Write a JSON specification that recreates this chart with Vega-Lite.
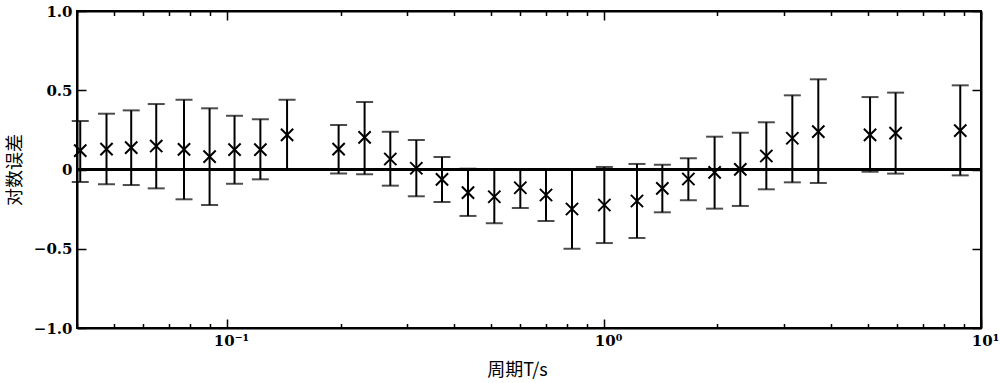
{
  "$schema": "https://vega.github.io/schema/vega-lite/v6.json",
  "autosize": "none",
  "padding": {"left": 77, "top": 11, "right": 19, "bottom": 55},
  "width": 904,
  "height": 317,
  "background": "white",
  "config": {
    "view": {"stroke": "black", "strokeWidth": 2},
    "axis": {
      "domainColor": "black", "domainWidth": 2,
      "tickColor": "black", "tickWidth": 1.5,
      "grid": false,
      "labelFont": "DejaVu Serif", "labelFontWeight": "bold", "labelFontSize": 15, "labelColor": "black",
      "titleFont": "Noto Sans CJK SC", "titleFontWeight": "normal", "titleFontSize": 18, "titleColor": "black"
    }
  },
  "datasets": {
    "pts": [
      {"T": 0.0408, "v": 0.119, "lo": -0.079, "hi": 0.306},
      {"T": 0.0479, "v": 0.129, "lo": -0.093, "hi": 0.352},
      {"T": 0.0557, "v": 0.138, "lo": -0.098, "hi": 0.373},
      {"T": 0.0649, "v": 0.148, "lo": -0.119, "hi": 0.413},
      {"T": 0.0769, "v": 0.127, "lo": -0.188, "hi": 0.440},
      {"T": 0.0899, "v": 0.081, "lo": -0.224, "hi": 0.386},
      {"T": 0.1047, "v": 0.125, "lo": -0.090, "hi": 0.339},
      {"T": 0.1226, "v": 0.125, "lo": -0.062, "hi": 0.317},
      {"T": 0.1443, "v": 0.218, "lo": -0.003, "hi": 0.440},
      {"T": 0.1977, "v": 0.129, "lo": -0.026, "hi": 0.281},
      {"T": 0.2317, "v": 0.203, "lo": -0.030, "hi": 0.426},
      {"T": 0.2711, "v": 0.066, "lo": -0.102, "hi": 0.238},
      {"T": 0.3178, "v": 0.008, "lo": -0.169, "hi": 0.186},
      {"T": 0.3717, "v": -0.062, "lo": -0.205, "hi": 0.079},
      {"T": 0.4357, "v": -0.146, "lo": -0.293, "hi": 0.005},
      {"T": 0.5117, "v": -0.172, "lo": -0.339, "hi": 0.003},
      {"T": 0.5998, "v": -0.115, "lo": -0.243, "hi": 0.002},
      {"T": 0.7017, "v": -0.161, "lo": -0.325, "hi": 0.002},
      {"T": 0.8224, "v": -0.249, "lo": -0.500, "hi": 0.002},
      {"T": 1.002, "v": -0.224, "lo": -0.464, "hi": 0.016},
      {"T": 1.223, "v": -0.199, "lo": -0.432, "hi": 0.035},
      {"T": 1.428, "v": -0.119, "lo": -0.270, "hi": 0.030},
      {"T": 1.674, "v": -0.060, "lo": -0.194, "hi": 0.071},
      {"T": 1.965, "v": -0.018, "lo": -0.247, "hi": 0.207},
      {"T": 2.299, "v": 0.001, "lo": -0.230, "hi": 0.232},
      {"T": 2.695, "v": 0.085, "lo": -0.125, "hi": 0.298},
      {"T": 3.159, "v": 0.197, "lo": -0.081, "hi": 0.468},
      {"T": 3.702, "v": 0.239, "lo": -0.085, "hi": 0.569},
      {"T": 5.078, "v": 0.218, "lo": -0.014, "hi": 0.457},
      {"T": 5.936, "v": 0.230, "lo": -0.026, "hi": 0.485},
      {"T": 8.81, "v": 0.245, "lo": -0.037, "hi": 0.531}
    ],
    "zero": [{"z": 0}]
  },
  "resolve": {"axis": {"x": "independent", "y": "independent"}},
  "layer": [
    {
      "data": {"name": "pts"},
      "mark": {"type": "rule", "color": "black", "strokeWidth": 2},
      "encoding": {
        "x": {
          "field": "T", "type": "quantitative",
          "scale": {"type": "log", "domain": [0.04, 10], "nice": false},
          "axis": {
            "orient": "bottom",
            "title": "周期T/s",
            "titleX": 440, "titleY": 42, "titleBaseline": "middle", "titleAlign": "center",
            "values": [0.04,0.05,0.06,0.07,0.08,0.09,0.1,0.2,0.3,0.4,0.5,0.6,0.7,0.8,0.9,1,2,3,4,5,6,7,8,9,10],
            "labelExpr": "datum.value == 0.1 ? '10⁻¹' : datum.value == 1 ? '10⁰' : datum.value == 10 ? '10¹' : ''",
            "tickSize": {"condition": {"test": "datum.value == 0.1 || datum.value == 1 || datum.value == 10", "value": -9}, "value": -4.5},
            "labelPadding": 14,
            "labelOffset": 4,
            "labelFlush": false,
            "labelOverlap": false
          }
        },
        "y": {
          "field": "lo", "type": "quantitative",
          "scale": {"domain": [-1, 1], "nice": false},
          "axis": {
            "orient": "left",
            "title": "对数误差",
            "titleX": -62, "titleY": 158.5, "titleAngle": -90, "titleBaseline": "middle", "titleAlign": "center",
            "values": [-1, -0.5, 0, 0.5, 1],
            "labelExpr": "datum.value == 0 ? '0' : format(datum.value, '.1f')",
            "tickSize": -9,
            "labelPadding": 14
          }
        },
        "y2": {"field": "hi"}
      }
    },
    {
      "data": {"name": "pts"},
      "mark": {"type": "tick", "orient": "horizontal", "color": "black", "size": 17, "thickness": 2},
      "encoding": {
        "x": {"field": "T", "type": "quantitative", "axis": null},
        "y": {"field": "hi", "type": "quantitative", "axis": null}
      }
    },
    {
      "data": {"name": "pts"},
      "mark": {"type": "tick", "orient": "horizontal", "color": "black", "size": 17, "thickness": 2},
      "encoding": {
        "x": {"field": "T", "type": "quantitative", "axis": null},
        "y": {"field": "lo", "type": "quantitative", "axis": null}
      }
    },
    {
      "data": {"name": "zero"},
      "mark": {"type": "rule", "color": "black", "strokeWidth": 3},
      "encoding": {
        "y": {"field": "z", "type": "quantitative", "axis": null}
      }
    },
    {
      "data": {"name": "pts"},
      "mark": {"type": "point", "shape": "M-1,-1L1,1M-1,1L1,-1", "filled": false, "color": "black", "strokeWidth": 2, "size": 150, "opacity": 1},
      "encoding": {
        "x": {
          "field": "T", "type": "quantitative",
          "axis": {
            "orient": "top", "title": null, "labels": false,
            "values": [0.04,0.05,0.06,0.07,0.08,0.09,0.1,0.2,0.3,0.4,0.5,0.6,0.7,0.8,0.9,1,2,3,4,5,6,7,8,9,10],
            "tickSize": {"condition": {"test": "datum.value == 0.1 || datum.value == 1 || datum.value == 10", "value": -9}, "value": -4.5}
          }
        },
        "y": {
          "field": "v", "type": "quantitative",
          "axis": {
            "orient": "right", "title": null, "labels": false,
            "values": [-1, -0.5, 0, 0.5, 1],
            "tickSize": -9
          }
        }
      }
    }
  ]
}
